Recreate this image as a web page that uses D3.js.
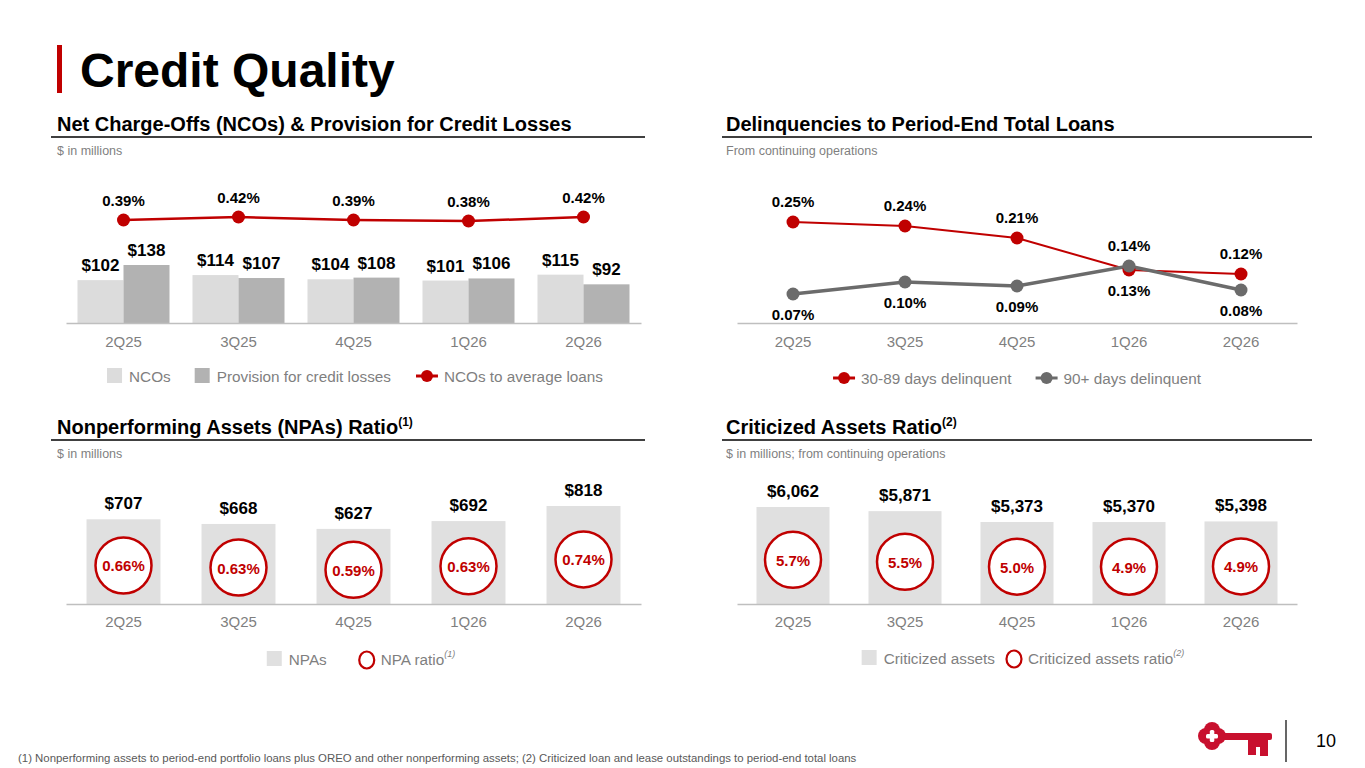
<!DOCTYPE html>
<html>
<head>
<meta charset="utf-8">
<script src="https://cdn.jsdelivr.net/npm/d3@7"></script>
<style>
  body { margin: 0; background: #ffffff; }
  svg { display: block; }
</style>
</head>
<body>
<script>
// values
const quarters = ["2Q25", "3Q25", "4Q25", "1Q26", "2Q26"];

const ncos = [102, 114, 104, 101, 115];
const provision = [138, 107, 108, 106, 92];
const ncoRatio = [0.39, 0.42, 0.39, 0.38, 0.42];

const delinq3089 = [0.25, 0.24, 0.21, 0.13, 0.12];
const delinq90 = [0.07, 0.10, 0.09, 0.14, 0.08];

const npas = [707, 668, 627, 692, 818];
const npaRatio = [0.66, 0.63, 0.59, 0.63, 0.74];

const criticized = [6062, 5871, 5373, 5370, 5398];
const criticizedRatio = [5.7, 5.5, 5.0, 4.9, 4.9];

const FONT = "'Liberation Sans', Arial, Helvetica, sans-serif";
const RED = "#C00000";
const GRAY_TEXT = "#7f7f7f";
const AXIS = "#bfbfbf";

const W = 1365, H = 768;

const svg = d3.select("body")
  .append("svg")
    .attr("width", W)
    .attr("height", H)
    .attr("font-family", FONT);

svg.append("rect").attr("width", W).attr("height", H).attr("fill", "#fff");

// ---- slide title
svg.append("rect")
  .attr("x", 57).attr("y", 45)
  .attr("width", 5).attr("height", 48)
  .attr("fill", RED);

svg.append("text")
  .attr("x", 80).attr("y", 87)
  .attr("font-size", 48).attr("font-weight", "bold")
  .attr("fill", "#000")
  .text("Credit Quality");

function header(x, y, x0, x1, title, sup, subtitle)
{
  const t = svg.append("text")
    .attr("x", x).attr("y", y)
    .attr("font-size", 20).attr("font-weight", "bold")
    .attr("fill", "#000")
    .text(title);
  if (sup) {
    t.append("tspan")
      .attr("font-size", 12).attr("dy", -8)
      .text(sup);
  }
  svg.append("line")
    .attr("x1", x0).attr("x2", x1)
    .attr("y1", y + 6).attr("y2", y + 6)
    .attr("stroke", "#000").attr("stroke-width", 1.5);
  svg.append("text")
    .attr("x", x).attr("y", y + 24)
    .attr("font-size", 12.5).attr("fill", GRAY_TEXT)
    .text(subtitle);
}

function xAxis(scale, baseline, padding)
{
  const g = svg.append("g")
    .attr("transform", "translate(0," + baseline + ")")
    .call(d3.axisBottom(scale).tickSize(0).tickSizeOuter(0).tickPadding(padding));
  g.select(".domain").attr("stroke", AXIS).attr("stroke-width", 1.5);
  g.selectAll(".tick text")
    .attr("font-family", FONT)
    .attr("font-size", 15)
    .attr("fill", GRAY_TEXT);
  return g;
}

// legend laid out left to right, then centred on cx
function legend(cx, cy, items, gap)
{
  const g = svg.append("g");
  let cursor = 0;
  items.forEach((it, i) => {
    if (it.type == "rect") {
      g.append("rect")
        .attr("x", cursor).attr("y", cy - 8)
        .attr("width", 15).attr("height", 15)
        .attr("fill", it.color);
      cursor += 22;
    }
    else if (it.type == "line") {
      g.append("line")
        .attr("x1", cursor).attr("x2", cursor + 22)
        .attr("y1", cy).attr("y2", cy)
        .attr("stroke", it.color).attr("stroke-width", 3);
      g.append("circle")
        .attr("cx", cursor + 11).attr("cy", cy)
        .attr("r", 6).attr("fill", it.color);
      cursor += 28;
    }
    else if (it.type == "ring") {
      g.append("ellipse")
        .attr("cx", cursor + 8).attr("cy", cy + 1)
        .attr("rx", 7.5).attr("ry", 8.5)
        .attr("fill", "#fff")
        .attr("stroke", RED).attr("stroke-width", 2.2);
      cursor += 22;
    }
    const t = g.append("text")
      .attr("x", cursor).attr("y", cy + 6)
      .attr("font-size", 15.3).attr("fill", GRAY_TEXT)
      .text(it.label);
    if (it.sup) {
      t.append("tspan")
        .attr("font-size", 9).attr("font-style", "italic")
        .attr("dy", -8)
        .text(it.sup);
    }
    cursor += t.node().getComputedTextLength() + (i < items.length - 1 ? gap[i] : 0);
  });
  g.attr("transform", "translate(" + (cx - cursor / 2) + ",0)");
}

// ---------------------------------------------------------------
// top left: NCOs & provision
header(57, 131, 51, 645, "Net Charge-Offs (NCOs) & Provision for Credit Losses", null, "$ in millions");

const tlBase = 323;
const tlX = d3.scaleBand()
  .domain(quarters)
  .range([66, 641])
  .paddingInner(0.2)
  .paddingOuter(0.1);

const tlSub = d3.scaleBand()
  .domain(["nco", "prov"])
  .range([0, tlX.bandwidth()]);

const tlY = d3.scaleLinear()
  .domain([0, 138])
  .range([tlBase, 265]);

const tlRatioY = d3.scaleLinear()
  .domain([0.38, 0.42])
  .range([221, 217]);

const tlRows = quarters.map((q, i) => ({q: q, nco: ncos[i], prov: provision[i], ratio: ncoRatio[i]}));

const tlBars = [];
tlRows.forEach(d => {
  tlBars.push({q: d.q, key: "nco", v: d.nco, color: "#dcdcdc"});
  tlBars.push({q: d.q, key: "prov", v: d.prov, color: "#b2b2b2"});
});

svg.append("g").selectAll("rect")
  .data(tlBars)
  .enter()
  .append("rect")
    .attr("x", d => tlX(d.q) + tlSub(d.key))
    .attr("y", d => tlY(d.v))
    .attr("width", tlSub.bandwidth())
    .attr("height", d => tlBase - tlY(d.v))
    .attr("fill", d => d.color);

svg.append("g").selectAll("text")
  .data(tlBars)
  .enter()
  .append("text")
    .attr("x", d => tlX(d.q) + tlSub(d.key) + tlSub.bandwidth() / 2)
    .attr("y", d => tlY(d.v) - 9)
    .attr("text-anchor", "middle")
    .attr("font-size", 17).attr("font-weight", "bold")
    .text(d => "$" + d.v);

xAxis(tlX, tlBase, 13);

const tlCx = d => tlX(d.q) + tlX.bandwidth() / 2;

svg.append("path")
  .datum(tlRows)
  .attr("fill", "none")
  .attr("stroke", RED)
  .attr("stroke-width", 2.5)
  .attr("d", d3.line().x(tlCx).y(d => tlRatioY(d.ratio)));

svg.append("g").selectAll("circle")
  .data(tlRows)
  .enter()
  .append("circle")
    .attr("cx", tlCx)
    .attr("cy", d => tlRatioY(d.ratio))
    .attr("r", 6.5)
    .attr("fill", RED);

svg.append("g").selectAll("text")
  .data(tlRows)
  .enter()
  .append("text")
    .attr("x", tlCx)
    .attr("y", d => tlRatioY(d.ratio) - 14)
    .attr("text-anchor", "middle")
    .attr("font-size", 15).attr("font-weight", "bold")
    .text(d => d3.format(".2f")(d.ratio) + "%");

legend(355, 376, [
  {type: "rect", color: "#dcdcdc", label: "NCOs"},
  {type: "rect", color: "#b2b2b2", label: "Provision for credit losses"},
  {type: "line", color: RED, label: "NCOs to average loans"}
], [24, 25]);

// ---------------------------------------------------------------
// top right: delinquencies
header(726, 131, 722, 1312, "Delinquencies to Period-End Total Loans", null, "From continuing operations");

const trBase = 323;
const trX = d3.scaleBand()
  .domain(quarters)
  .range([737, 1297]);

const trY = d3.scaleLinear()
  .domain([0.07, 0.25])
  .range([294, 222]);

xAxis(trX, trBase, 13);

const trSeries = [
  {name: "30-89 days delinquent", values: delinq3089, other: delinq90, color: RED, width: 2},
  {name: "90+ days delinquent", values: delinq90, other: delinq3089, color: "#6b6b6b", width: 3.5}
];

const trCx = (d, i) => trX(quarters[i]) + trX.bandwidth() / 2;

trSeries.forEach(s => {
  svg.append("path")
    .datum(s.values)
    .attr("fill", "none")
    .attr("stroke", s.color)
    .attr("stroke-width", s.width)
    .attr("d", d3.line().x(trCx).y(d => trY(d)));
});

trSeries.forEach(s => {
  svg.append("g").selectAll("circle")
    .data(s.values)
    .enter()
    .append("circle")
      .attr("cx", trCx)
      .attr("cy", d => trY(d))
      .attr("r", 6.5)
      .attr("fill", s.color);
});

// the higher point of each pair gets its label above, the lower one below
trSeries.forEach(s => {
  svg.append("g").selectAll("text")
    .data(s.values)
    .enter()
    .append("text")
      .attr("x", trCx)
      .attr("y", (d, i) => d >= s.other[i] ? trY(d) - 15 : trY(d) + 26)
      .attr("text-anchor", "middle")
      .attr("font-size", 15).attr("font-weight", "bold")
      .text(d => d3.format(".2f")(d) + "%");
});

legend(1017, 378, [
  {type: "line", color: RED, label: "30-89 days delinquent"},
  {type: "line", color: "#6b6b6b", label: "90+ days delinquent"}
], [24]);

// ---------------------------------------------------------------
// bottom charts: bars with ratio rings
function ringChart(opts)
{
  const x = d3.scaleBand()
    .domain(quarters)
    .range(opts.range)
    .paddingInner(opts.pad)
    .paddingOuter(opts.pad / 2);

  const y = d3.scaleLinear()
    .domain(opts.domain)
    .range([opts.base, opts.top]);

  const rows = quarters.map((q, i) => ({q: q, v: opts.values[i], r: opts.ratios[i]}));
  const cx = d => x(d.q) + x.bandwidth() / 2;
  const cy = d => opts.base - (opts.base - y(d.v)) * 0.455;

  svg.append("g").selectAll("rect")
    .data(rows)
    .enter()
    .append("rect")
      .attr("x", d => x(d.q))
      .attr("y", d => y(d.v))
      .attr("width", x.bandwidth())
      .attr("height", d => opts.base - y(d.v))
      .attr("fill", "#e0e0e0");

  xAxis(x, opts.base, 12);

  svg.append("g").selectAll("text")
    .data(rows)
    .enter()
    .append("text")
      .attr("x", cx)
      .attr("y", d => y(d.v) - 10)
      .attr("text-anchor", "middle")
      .attr("font-size", 17).attr("font-weight", "bold")
      .text(d => "$" + d3.format(",")(d.v));

  svg.append("g").selectAll("circle")
    .data(rows)
    .enter()
    .append("circle")
      .attr("cx", cx)
      .attr("cy", cy)
      .attr("r", 28)
      .attr("fill", "#fff")
      .attr("stroke", RED)
      .attr("stroke-width", 2.5);

  svg.append("g").selectAll("text")
    .data(rows)
    .enter()
    .append("text")
      .attr("x", cx)
      .attr("y", d => cy(d) + 6)
      .attr("text-anchor", "middle")
      .attr("font-size", 15).attr("font-weight", "bold")
      .attr("fill", RED)
      .text(d => opts.fmt(d.r) + "%");
}

header(57, 434, 51, 645, "Nonperforming Assets (NPAs) Ratio", "(1)", "$ in millions");

ringChart({
  range: [66, 641], pad: 0.357,
  base: 604, top: 506, domain: [0, 818],
  values: npas, ratios: npaRatio, fmt: d3.format(".2f")
});

legend(361, 659, [
  {type: "rect", color: "#e0e0e0", label: "NPAs"},
  {type: "ring", label: "NPA ratio", sup: "(1)"}
], [32]);

header(726, 434, 722, 1312, "Criticized Assets Ratio", "(2)", "$ in millions; from continuing operations");

ringChart({
  range: [737, 1297], pad: 0.348,
  base: 604, top: 507, domain: [1600, 6062],
  values: criticized, ratios: criticizedRatio, fmt: d3.format(".1f")
});

legend(1023, 658, [
  {type: "rect", color: "#e0e0e0", label: "Criticized assets"},
  {type: "ring", label: "Criticized assets ratio", sup: "(2)"}
], [11]);

// ---------------------------------------------------------------
// footer
svg.append("text")
  .attr("x", 18).attr("y", 762)
  .attr("font-size", 11.4).attr("fill", "#595959")
  .text("(1) Nonperforming assets to period-end portfolio loans plus OREO and other nonperforming assets; (2) Criticized loan and lease outstandings to period-end total loans");

// key logo
const logo = svg.append("g").attr("fill", "#C8102E");
[[-6, 0], [6, 0], [0, -6], [0, 6]].forEach(o => {
  logo.append("circle")
    .attr("cx", 1212 + o[0]).attr("cy", 736 + o[1])
    .attr("r", 8);
});
logo.append("rect").attr("x", 1218).attr("y", 733).attr("width", 54).attr("height", 7).attr("rx", 2);
logo.append("rect").attr("x", 1248).attr("y", 739).attr("width", 20).attr("height", 8);
logo.append("rect").attr("x", 1248).attr("y", 739).attr("width", 8).attr("height", 16);
logo.append("rect").attr("x", 1260).attr("y", 739).attr("width", 8).attr("height", 17);
logo.append("rect").attr("x", 1206).attr("y", 734).attr("width", 12).attr("height", 4.5).attr("rx", 1.5).attr("fill", "#fff");
logo.append("rect").attr("x", 1209.8).attr("y", 730).attr("width", 4.5).attr("height", 12).attr("rx", 1.5).attr("fill", "#fff");

svg.append("line")
  .attr("x1", 1286).attr("x2", 1286)
  .attr("y1", 720).attr("y2", 762)
  .attr("stroke", "#000").attr("stroke-width", 1.2);

svg.append("text")
  .attr("x", 1326).attr("y", 747)
  .attr("text-anchor", "middle")
  .attr("font-size", 18).attr("fill", "#000")
  .text("10");
</script>
</body>
</html>
